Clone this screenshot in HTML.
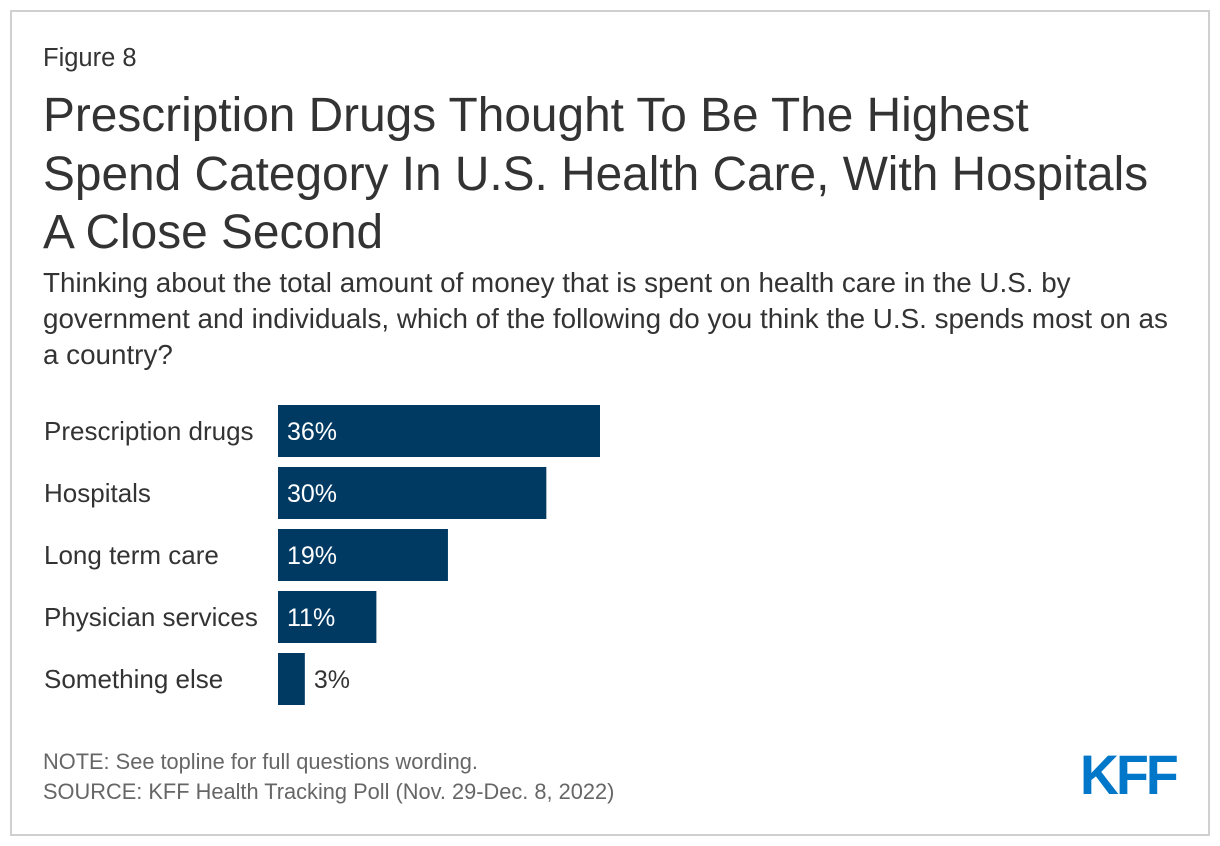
<!DOCTYPE html>
<html><head><meta charset="utf-8"><style>
body{margin:0;width:1220px;height:846px;background:#fff;font-family:"Liberation Sans",sans-serif;color:#333;position:relative;overflow:hidden}
.frame{position:absolute;left:10px;top:10px;width:1196px;height:822px;border:2px solid #d0d0d0}
.t{position:absolute;left:43px;white-space:nowrap}
</style></head><body>
<div class="frame"></div>
<div class="t" style="top:44px;font-size:25.5px">Figure 8</div>
<div class="t" style="top:87px;font-size:47.8px;line-height:58.5px;color:#333">Prescription Drugs Thought To Be The Highest<br>Spend Category In U.S. Health Care, With Hospitals<br>A Close Second</div>
<div class="t" style="top:265px;font-size:27.8px;line-height:36px">Thinking about the total amount of money that is spent on health care in the U.S. by<br>government and individuals, which of the following do you think the U.S. spends most on as<br>a country?</div>
<svg id="chart" style="position:absolute;left:0;top:0" width="1220" height="846"></svg>
<div class="t" style="top:747px;font-size:21.8px;color:#666;line-height:30px">NOTE: See topline for full questions wording.<br>SOURCE: KFF Health Tracking Poll (Nov. 29-Dec. 8, 2022)</div>
<div style="position:absolute;left:1080px;top:742px;font-size:56px;font-weight:bold;color:#0077c8;letter-spacing:-3px;transform:scaleX(0.96);transform-origin:left">KFF</div>
<script>
const categories=["Prescription drugs","Hospitals","Long term care","Physician services","Something else"];
const values=[36,30,19,11,3];
const labels=["36%","30%","19%","11%","3%"];
const svg=document.getElementById('chart');
const NS='http://www.w3.org/2000/svg';
const x0=278, scale=322/36, y0=405, pitch=62, bh=52;
const xs=v=>v*scale, ys=i=>y0+i*pitch;
categories.forEach((c,i)=>{
  const t=document.createElementNS(NS,'text');
  
  
  t.setAttribute('x',44);t.setAttribute('y',ys(i)+bh/2+9);
  t.setAttribute('font-size','26');t.setAttribute('fill','#333');
  t.textContent=c;svg.appendChild(t);
  const r=document.createElementNS(NS,'rect');
  
  
  r.setAttribute('x',x0);r.setAttribute('y',ys(i));
  r.setAttribute('width',xs(values[i]));r.setAttribute('height',bh);
  r.setAttribute('fill','#003a63');svg.appendChild(r);
  const w=xs(values[i]);const inside=w>60;
  const v=document.createElementNS(NS,'text');
  
  
  v.setAttribute('x',inside?x0+9:x0+w+9);v.setAttribute('y',ys(i)+bh/2+9);
  v.setAttribute('font-size','25');v.setAttribute('fill',inside?'#fff':'#333');
  v.textContent=labels[i];svg.appendChild(v);
});
</script>
</body></html>
